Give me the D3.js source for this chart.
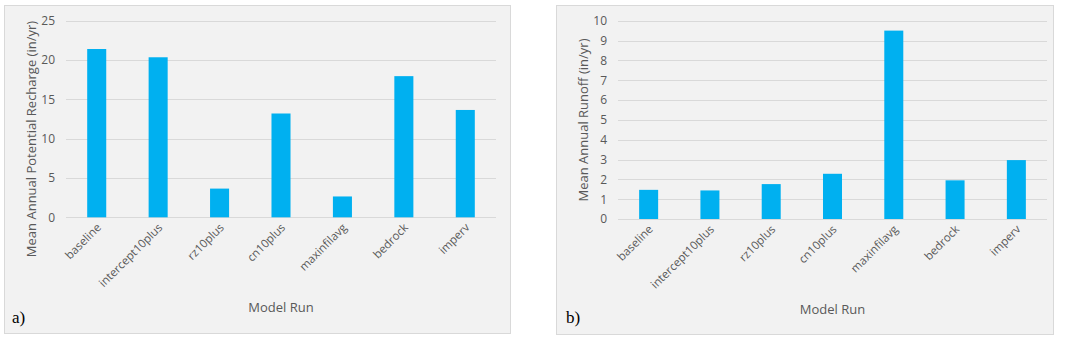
<!DOCTYPE html>
<html><head><meta charset="utf-8">
<script src="https://cdn.jsdelivr.net/npm/d3@7"></script>
<style>body{margin:0;background:#fff}svg{display:block}</style>
</head><body>
<svg id="c" width="1084" height="340"></svg>
<script>
const categories = ["baseline","intercept10plus","rz10plus","cn10plus","maxinfilavg","bedrock","imperv"];
const rechargeValues = [21.4, 20.35, 3.65, 13.2, 2.65, 17.95, 13.65];
const runoffValues = [1.47, 1.44, 1.76, 2.28, 9.5, 1.95, 2.97];
const rechargeTicks = [0,5,10,15,20,25];
const runoffTicks = [0,1,2,3,4,5,6,7,8,9,10];

const svg = d3.select("#c");
const FONT = "'Open Sans', sans-serif";
const TXT = "#595959";

function panel(cfg){
  const g = svg.append("g");
  g.append("rect").attr("x",cfg.box[0]+0.5).attr("y",cfg.box[1]+0.5)
    .attr("width",cfg.box[2]).attr("height",cfg.box[3])
    .attr("fill","#f2f2f2").attr("stroke","#d9d9d9").attr("stroke-width",1);
  const x = d3.scaleBand().domain(categories).range([cfg.left,cfg.right]).paddingInner(0.69).paddingOuter(0.345);
  const y = d3.scaleLinear().domain([0,cfg.max]).range([cfg.bottom,cfg.top]);
  // grid
  g.selectAll(".grid").data(cfg.ticks).join("line")
    .attr("x1",cfg.left).attr("x2",cfg.right)
    .attr("y1",d=>Math.round(y(d))+0.5).attr("y2",d=>Math.round(y(d))+0.5)
    .attr("stroke","#d9d9d9").attr("stroke-width",1);
  // y axis labels
  const ya = d3.axisLeft(y).tickValues(cfg.ticks).tickSize(0).tickPadding(0);
  const yg = g.append("g").attr("transform",`translate(${cfg.tickX},0)`).call(ya);
  yg.select(".domain").remove();
  yg.selectAll("text").attr("fill",TXT).attr("font-family",FONT).attr("font-size",12);
  // bars
  g.selectAll(".bar").data(cfg.values).join("rect")
    .attr("x",(d,i)=>x(categories[i])).attr("width",x.bandwidth())
    .attr("y",d=>y(d)).attr("height",d=>y(0)-y(d))
    .attr("fill","#00b0f0");
  // x labels
  const xa = d3.axisBottom(x).tickSize(0).tickPadding(0);
  const xg = g.append("g").attr("transform",`translate(0,${cfg.bottom})`).call(xa);
  xg.select(".domain").remove();
  xg.selectAll("text").attr("fill",TXT).attr("font-family",FONT).attr("font-size",11.5)
    .attr("text-anchor","end").attr("dy",null)
    .attr("transform","translate(5,11) rotate(-45)");
  // y title
  g.append("text").attr("transform",`translate(${cfg.titleX},${cfg.titleY}) rotate(-90)`)
    .attr("text-anchor","middle").attr("font-family",FONT).attr("font-size",13).attr("fill",TXT)
    .text(cfg.ytitle);
  // x title
  g.append("text").attr("x",(cfg.left+cfg.right)/2).attr("y",cfg.xTitleY)
    .attr("text-anchor","middle").attr("font-family",FONT).attr("font-size",13).attr("fill",TXT)
    .text("Model Run");
  // panel letter
  g.append("text").attr("x",cfg.letterX).attr("y",cfg.letterY)
    .attr("font-family","'Liberation Serif', 'Times New Roman', serif").attr("font-size",17).attr("fill","#000")
    .text(cfg.letter);
}

panel({box:[4,5,506,328], left:66, right:496, top:20.7, bottom:217.3, max:25, ticks:rechargeTicks,
  values:rechargeValues, tickX:55, titleX:36, titleY:139, ytitle:"Mean Annual Potential Recharge (in/yr)",
  xTitleY:312, letter:"a)", letterX:12, letterY:323});
panel({box:[556,5,497,329], left:618, right:1047, top:20.7, bottom:219, max:10, ticks:runoffTicks,
  values:runoffValues, tickX:607, titleX:588, titleY:120, ytitle:"Mean Annual Runoff (in/yr)",
  xTitleY:314, letter:"b)", letterX:566, letterY:323});
</script>
</body></html>
